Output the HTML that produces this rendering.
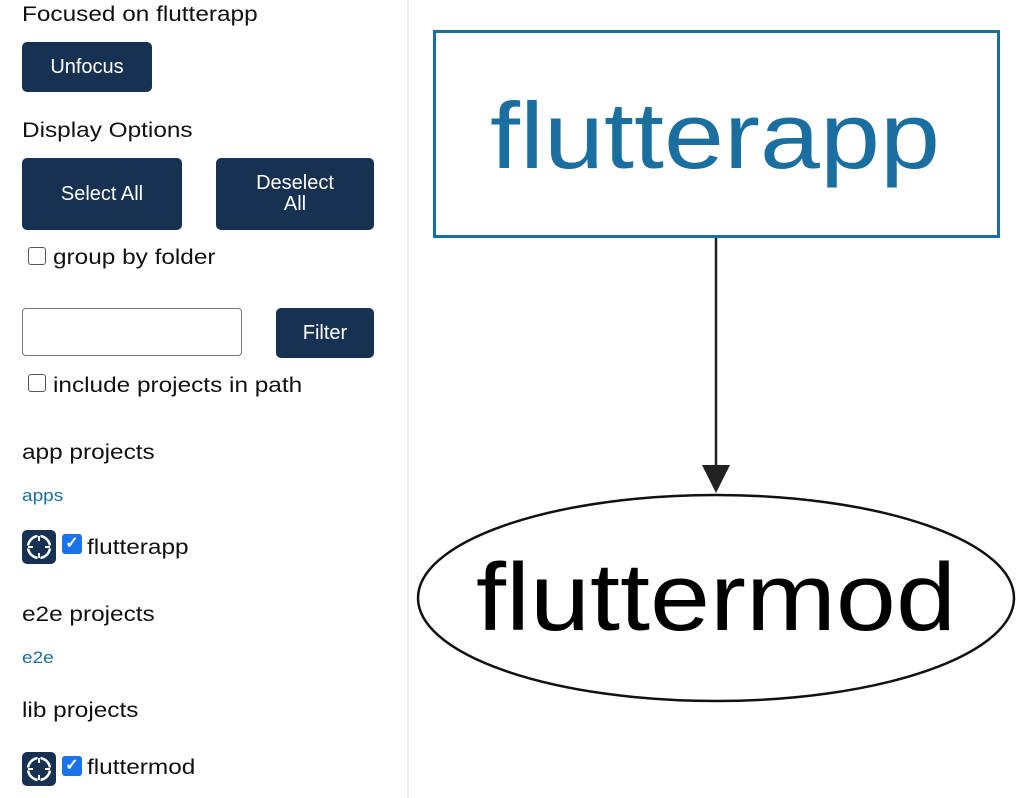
<!DOCTYPE html>
<html><head><style>
body{margin:0;width:1024px;height:798px;position:relative;background:#fff;font-family:"Liberation Sans",sans-serif;overflow:hidden}
.t{position:absolute;font-size:21px;color:#111;white-space:nowrap;transform:scaleX(1.16);transform-origin:0 0}
.b{position:absolute;background:#163152;color:#fff;border-radius:5px;display:flex;align-items:center;justify-content:center;text-align:center;font-size:20px;line-height:21px}
.cb{position:absolute;width:16px;height:16px;border:1.5px solid #555;border-radius:3px;background:#fff}
.ck{position:absolute;width:20px;height:20px;background:#1a73e8;border-radius:3px;color:#fff;font-size:16px;line-height:20px;text-align:center;font-weight:bold}
.ic{position:absolute;width:34px;height:34px;background:#163152;border-radius:5px}
.l{position:absolute;font-size:17px;color:#1a6fa0;transform:scaleX(1.12);transform-origin:0 0}
</style></head><body>
<div style="position:absolute;left:407px;top:0;width:2px;height:798px;background:#eee"></div>
<div class="t" style="left:22px;top:3px">Focused on flutterapp</div>
<div class="b" style="left:22px;top:42px;width:130px;height:50px">Unfocus</div>
<div class="t" style="left:22px;top:119px">Display Options</div>
<div class="b" style="left:22px;top:158px;width:160px;height:72px">Select All</div>
<div class="b" style="left:216px;top:158px;width:158px;height:72px">Deselect<br>All</div>
<div class="cb" style="left:28px;top:247px"></div>
<div class="t" style="left:53px;top:246px">group by folder</div>
<div style="position:absolute;left:22px;top:308px;width:218px;height:46px;border:1.5px solid #777;border-radius:4px"></div>
<div class="b" style="left:276px;top:308px;width:98px;height:50px">Filter</div>
<div class="cb" style="left:28px;top:374px"></div>
<div class="t" style="left:53px;top:374px">include projects in path</div>
<div class="t" style="left:22px;top:441px">app projects</div>
<div class="l" style="left:22px;top:486px">apps</div>
<div class="ic" style="left:22px;top:530px"><svg width="34" height="34"><circle cx="17" cy="17" r="11" fill="none" stroke="#fff" stroke-width="2.5"/><path d="M17 4v8M17 22v8M4 17h8M22 17h8" stroke="#163152" stroke-width="3"/><path d="M17 6v5M17 23v5M6 17h5M23 17h5" stroke="#fff" stroke-width="2"/></svg></div>
<div class="ck" style="left:62px;top:534px">✓</div>
<div class="t" style="left:87px;top:536px">flutterapp</div>
<div class="t" style="left:22px;top:603px">e2e projects</div>
<div class="l" style="left:22px;top:648px">e2e</div>
<div class="t" style="left:22px;top:699px">lib projects</div>
<div class="ic" style="left:22px;top:752px"><svg width="34" height="34"><circle cx="17" cy="17" r="11" fill="none" stroke="#fff" stroke-width="2.5"/><path d="M17 4v8M17 22v8M4 17h8M22 17h8" stroke="#163152" stroke-width="3"/><path d="M17 6v5M17 23v5M6 17h5M23 17h5" stroke="#fff" stroke-width="2"/></svg></div>
<div class="ck" style="left:62px;top:756px">✓</div>
<div class="t" style="left:87px;top:756px">fluttermod</div>
<svg style="position:absolute;left:0;top:0" width="1024" height="798">
<rect x="434.5" y="31.5" width="564" height="205" fill="none" stroke="#1a6fa0" stroke-width="3"/>
<text x="490" y="168" textLength="450" lengthAdjust="spacingAndGlyphs" font-family="Liberation Sans" font-size="94" fill="#1a6fa0">flutterapp</text>
<line x1="716" y1="238" x2="716" y2="468" stroke="#222" stroke-width="2.5"/>
<polygon points="702,465 730,465 716,493" fill="#222"/>
<ellipse cx="716" cy="598" rx="298" ry="103" fill="none" stroke="#111" stroke-width="2.5"/>
<text x="476" y="630" textLength="480" lengthAdjust="spacingAndGlyphs" font-family="Liberation Sans" font-size="96" fill="#000">fluttermod</text>
</svg>
</body></html>
